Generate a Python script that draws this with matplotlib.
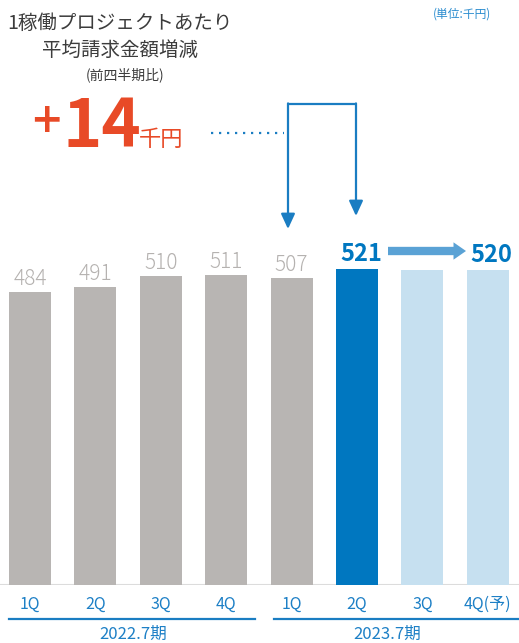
import matplotlib
matplotlib.use("Agg")
import matplotlib.pyplot as plt

plt.rcParams["font.family"] = ["Noto Sans CJK JP", "DejaVu Sans"]

# data
quarters = ["1Q", "2Q", "3Q", "4Q", "1Q", "2Q", "3Q", "4Q(予)"]
values = [484, 491, 510, 511, 507, 521, 520, 520]
value_labels = ["484", "491", "510", "511", "507", "521", "", "520"]
periods = ["2022.7期", "2023.7期"]
change = "+14"

GRAY = "#b8b5b3"
BLUE = "#0077c0"
LIGHT = "#c6e0f0"
TXTBLUE = "#1e80c6"
ORANGE = "#e84a27"
colors = [GRAY] * 5 + [BLUE, LIGHT, LIGHT]

W, H = 519, 643
fig = plt.figure(figsize=(W / 100, H / 100), dpi=100)

# axes: baseline at 585px from top, 1 bar step = 65.4px
base_px = 585
step = 65.4
yscale = 0.606  # px per unit
ax = fig.add_axes([0, (H - base_px) / H, 1, base_px / H])
ax.set_xlim(-30 / step, (W - 30) / step)
ax.set_ylim(0, base_px / yscale)
ax.axis("off")


def dx(px):
    return (px - 30) / step


def dy(py):
    return (base_px - py) / yscale


x = list(range(len(values)))
ax.bar(x, values, width=0.64, color=colors, zorder=2)
ax.axhline(0, color="#dcdcdc", lw=1.5, zorder=1)

# value labels
for i, (v, lab) in enumerate(zip(values, value_labels)):
    if not lab:
        continue
    if i >= 5:
        ax.text(i + 0.06, v + 13, lab, ha="center", va="baseline",
                fontsize=17, fontweight="bold", color=BLUE)
    else:
        ax.text(i, v + 11.5, lab, ha="center", va="baseline",
                fontsize=15, fontweight="light", color="#b5b2b0")

# arrow 521 -> 520
ax.annotate("", xy=(dx(466), dy(251)), xytext=(dx(388), dy(251)),
            arrowprops=dict(arrowstyle="simple,head_width=1.25,head_length=0.9,tail_width=0.6",
                            color="#5aa2d5", mutation_scale=10, shrinkA=0, shrinkB=0, lw=0))

# connector arrows
top = dy(104)
ax.plot([dx(288), dx(356)], [top, top], color="#1a7dc2", lw=1.6, solid_capstyle="butt")
ax.annotate("", xy=(dx(288), dy(229)), xytext=(dx(288), top + 1),
            arrowprops=dict(arrowstyle="-|>,head_length=0.65,head_width=0.3",
                            color="#1a7dc2", lw=1.6, mutation_scale=14, shrinkA=0, shrinkB=0))
ax.annotate("", xy=(dx(356), dy(216)), xytext=(dx(356), top + 1),
            arrowprops=dict(arrowstyle="-|>,head_length=0.65,head_width=0.3",
                            color="#1a7dc2", lw=1.6, mutation_scale=14, shrinkA=0, shrinkB=0))
ax.plot([dx(211), dx(284)], [dy(133), dy(133)], color="#1a7dc2", lw=1.6,
        linestyle=(0, (1, 2.6)))

# quarter labels and period lines
for i, q in enumerate(quarters):
    ax.text(i, dy(604), q, ha="center", va="center", fontsize=11.5, color=TXTBLUE)
ax.plot([dx(9), dx(255)], [dy(619), dy(619)], color="#1a7dc2", lw=1.6, clip_on=False)
ax.plot([dx(274), dx(519)], [dy(619), dy(619)], color="#1a7dc2", lw=1.6, clip_on=False)
ax.text(dx(133), dy(634), periods[0], ha="center", va="center", fontsize=12, color=TXTBLUE)
ax.text(dx(387), dy(634), periods[1], ha="center", va="center", fontsize=12, color=TXTBLUE)


def fx(px):
    return px / W


def fy(py):
    return 1 - py / H


# title block
fig.text(fx(120), fy(23), "1稼働プロジェクトあたり", ha="center", va="center",
         fontsize=14, color="#3c3c3c")
fig.text(fx(120), fy(50), "平均請求金額増減", ha="center", va="center",
         fontsize=14, color="#3c3c3c")
fig.text(fx(125), fy(75), "(前四半期比)", ha="center", va="center",
         fontsize=10, color="#3c3c3c")
fig.text(fx(462), fy(14), "(単位:千円)", ha="center", va="center",
         fontsize=8.5, color="#2a8ccf")

fig.text(fx(46), fy(124), change[0], ha="center", va="center",
         fontsize=36, fontweight="medium", color=ORANGE)
fig.text(fx(63), fy(147), change[1:], ha="left", va="baseline",
         fontsize=48, fontweight="bold", color=ORANGE)
fig.text(fx(139), fy(146), "千円", ha="left", va="baseline",
         fontsize=16, color=ORANGE)

fig.savefig("out.png", dpi=100)
